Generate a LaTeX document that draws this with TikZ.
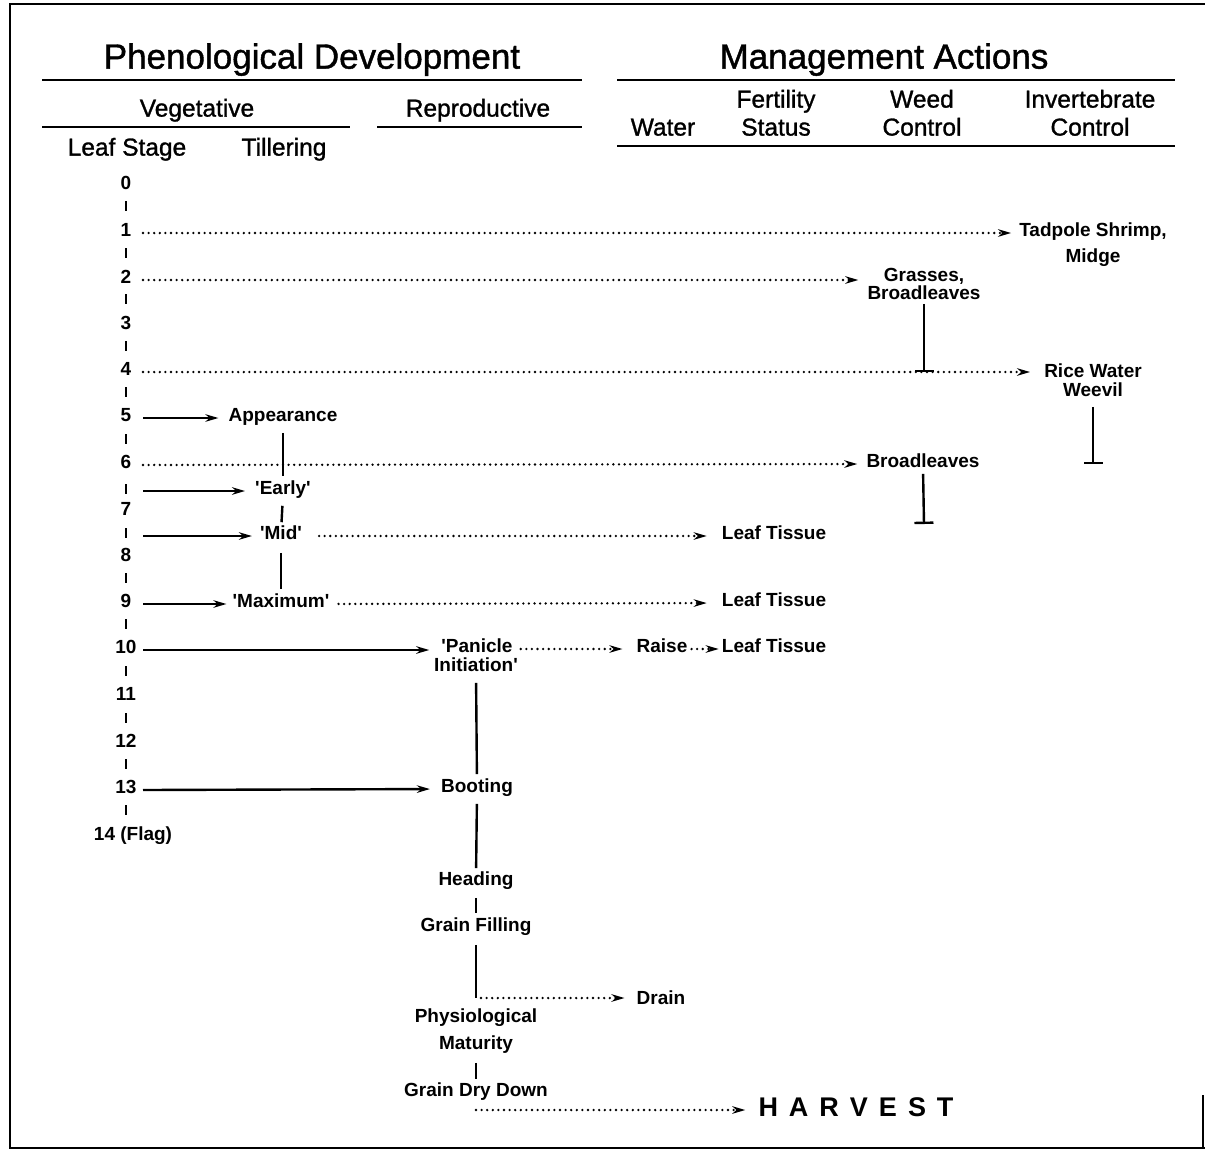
\documentclass[tikz,border=0pt]{standalone}
\usepackage{fontspec}
\setmainfont{Liberation Sans}
\newfontfamily\hvfont[FakeBold=1.2]{Liberation Sans}
\usetikzlibrary{arrows.meta}
\begin{document}
\begin{tikzpicture}[x=1pt,y=-1pt,
  txt/.style={inner sep=0pt, text height=0.72em, text depth=0pt, anchor=center},
  ttl/.style={txt, yshift=-9pt, font=\hvfont\fontsize{35}{40}\selectfont},
  hd/.style={txt, yshift=-5pt, font=\hvfont\fontsize{24.5}{28}\selectfont},
  lbl/.style={txt, yshift=-3pt, font=\fontsize{19}{22}\selectfont\bfseries},
  rule/.style={line width=2.6pt},
  conn/.style={line width=2.4pt},
  solidarrow/.style={conn, -{Stealth[length=13pt,width=7.5pt]}},
  dotarrow/.style={conn, line width=2.6pt, line cap=round, dash pattern=on 0pt off 5.6pt, -{Stealth[length=13pt,width=7.5pt]}},
  tickln/.style={line width=2.4pt},
  barln/.style={conn, -{Bar[width=19pt]}},
]
\useasboundingbox (0,0) rectangle (1205,1152);
% frame
\draw[rule] (1205,4) -- (10,4) -- (10,1148) -- (1205,1148);
\draw[line width=2pt] (1203,1095) -- (1203,1148);
% headings
\node[ttl] (phen) at (312,56) {Phenological Development};
\node[ttl] (mgmt) at (884,56) {Management Actions};
\draw[rule] (42,80) -- (582,80);
\draw[rule] (617,80) -- (1175,80);
\node[hd] (veg) at (197,108) {Vegetative};
\node[hd] (repro) at (478,108) {Reproductive};
\draw[rule] (42,127) -- (350,127);
\draw[rule] (377,127) -- (582,127);
\node[hd] (leaf) at (127,147) {Leaf Stage};
\node[hd] (till) at (284,147) {Tillering};
\node[hd] (water) at (663,127) {Water};
\node[hd] (fert1) at (776,99) {Fertility};
\node[hd] (fert2) at (776,127) {Status};
\node[hd] (weed1) at (922,99) {Weed};
\node[hd] (weed2) at (922,127) {Control};
\node[hd] (inv1) at (1090,99) {Invertebrate};
\node[hd] (inv2) at (1090,127) {Control};
\draw[rule] (617,146) -- (1175,146);
% leaf stage numbers
\foreach \n/\y in {0/183,1/230,2/277,3/323,4/369,5/415,6/462,7/509,8/555,9/601,10/647,11/694,12/741,13/787}
  \node[lbl] (n\n) at (126,\y) {\n};
\node[lbl] (n14) at (133,834) {14 (Flag)};
\foreach \y in {206,253,299,346,392,439,489,533,578,624,671,718,764,810}
  \draw[tickln] (126,\y-5) -- (126,\y+5);
\coordinate (t67) at (126,489);
\coordinate (t78) at (126,535);
% labels
\node[lbl] (tad1) at (1093,230) {Tadpole Shrimp,};
\node[lbl] (tad2) at (1093,256) {Midge};
\node[lbl] (grass1) at (924,275) {Grasses,};
\node[lbl] (grass2) at (924,293) {Broadleaves};
\node[lbl] (rice1) at (1093,371) {Rice Water};
\node[lbl] (rice2) at (1093,390) {Weevil};
\node[lbl] (appear) at (283,415) {Appearance};
\node[lbl] (broad) at (923,461) {Broadleaves};
\node[lbl] (early) at (283,488) {\textquotesingle Early\textquotesingle};
\node[lbl] (mid) at (281,533) {\textquotesingle Mid\textquotesingle};
\node[lbl] (max) at (281,601) {\textquotesingle Maximum\textquotesingle};
\node[lbl] (lt1) at (774,533) {Leaf Tissue};
\node[lbl] (lt2) at (774,600) {Leaf Tissue};
\node[lbl] (lt3) at (774,646) {Leaf Tissue};
\node[lbl] (pan1) at (477,646) {\textquotesingle Panicle};
\node[lbl] (pan2) at (476,665) {Initiation\textquotesingle};
\node[lbl] (raise) at (662,646) {Raise};
\node[lbl] (boot) at (477,786) {Booting};
\node[lbl] (heading) at (476,879) {Heading};
\node[lbl] (gfill) at (476,925) {Grain Filling};
\node[lbl] (phys1) at (476,1016) {Physiological};
\node[lbl] (phys2) at (476,1043) {Maturity};
\node[lbl] (gdry) at (476,1090) {Grain Dry Down};
\node[lbl] (drain) at (661,998) {Drain};
\node[txt, yshift=-3pt, font=\fontsize{27}{30}\selectfont\bfseries] (harvest) at (856,1110) {\spaceskip=11pt H A R V E S T};
\coordinate (wt2) at (924,524);
\coordinate (dj) at (476,998);
\coordinate (hs) at (476,1110);
% connectors
\draw[dotarrow, shorten >=8pt] ([xshift=17pt]n1.center) -- (n1.center -| tad1.west);
\draw[dotarrow, shorten >=9pt] ([xshift=17pt]n2.center) -- (n2.center -| grass2.west);
\draw[barln, shorten <=4pt] (grass2.south) -- (grass2.south |- n4.center);
\draw[dotarrow, shorten >=14pt] ([xshift=17pt]n4.center) -- (n4.center -| rice1.west);
\draw[barln, shorten <=10pt] (rice2.south) -- (rice2.south |- broad.center);
\draw[solidarrow, shorten >=10pt] ([xshift=17pt]n5.center) -- (appear.west);
\draw[conn, shorten <=11pt, shorten >=11pt] (appear.south) -- (early.north);
\draw[dotarrow, shorten >=9pt] ([xshift=17pt]n6.center) -- (broad.west);
\draw[barln, shorten <=6pt] (broad.south) -- (wt2);
\draw[solidarrow, shorten >=10pt] ([xshift=17pt]t67 |- early.west) -- (early.west);
\draw[tickln, shorten <=11pt, shorten >=10pt] (early.south) -- (mid.north);
\draw[solidarrow, shorten >=8pt] ([xshift=17pt]t78 |- mid.west) -- (mid.west);
\draw[dotarrow, shorten <=17pt, shorten >=15pt] (mid.east) -- (lt1.west);
\draw[conn, shorten <=13pt, shorten >=11pt] (mid.south) -- (max.north);
\draw[solidarrow, shorten >=6pt] ([xshift=17pt]n9.center) -- (max.west);
\draw[dotarrow, shorten <=9pt, shorten >=15pt] (max.east) -- (lt2.west);
\draw[solidarrow, shorten >=12pt] ([xshift=17pt]n10.center) -- (n10.center -| pan1.west);
\draw[dotarrow, shorten <=8pt, shorten >=14pt] (pan1.east) -- (raise.west);
\draw[dotarrow, shorten <=4pt, shorten >=3pt] (raise.east) -- (lt3.west);
\draw[conn, shorten <=11pt, shorten >=11pt] (pan2.south) -- (boot.north);
\draw[solidarrow, shorten >=11pt] ([xshift=17pt]n13.center) -- (boot.west);
\draw[conn, shorten <=11pt, shorten >=10pt] (boot.south) -- (heading.north);
\draw[tickln, shorten <=12pt, shorten >=11pt] (heading.south) -- (gfill.north);
\draw[conn, shorten <=13pt] (gfill.south) -- (dj);
\draw[dotarrow, shorten <=5pt, shorten >=12pt] (dj) -- (dj -| drain.west);
\draw[tickln, shorten <=13pt, shorten >=10pt] (phys2.south) -- (gdry.north);
\draw[dotarrow, shorten >=13pt] (hs) -- (hs -| harvest.west);
\end{tikzpicture}
\end{document}
